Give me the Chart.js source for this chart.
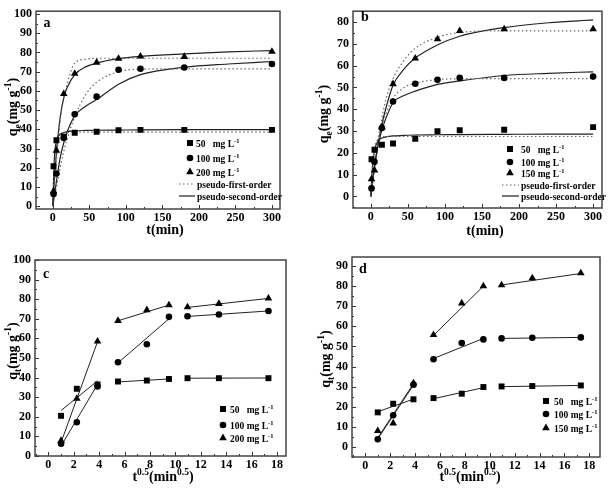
<!DOCTYPE html>
<html>
<head>
<meta charset="utf-8">
<script src="https://cdn.jsdelivr.net/npm/chart.js"></script>
<style>
  body { margin: 0; background: #fff; }
  #wrap { position: relative; width: 614px; height: 490px; }
  canvas { position: absolute; }
</style>
</head>
<body>
<div id="wrap">
  <canvas id="pa" width="307" height="245" style="left:0;top:0"></canvas>
  <canvas id="pb" width="307" height="245" style="left:307px;top:0"></canvas>
  <canvas id="pc" width="307" height="245" style="left:0;top:245px"></canvas>
  <canvas id="pd" width="307" height="245" style="left:307px;top:245px"></canvas>
</div>
<script>
// sampling times (min) and their square roots as plotted in c / d
const tMin = [1, 5, 15, 30, 60, 90, 120, 180, 300];
const tRoot = [1, 2.24, 3.87, 5.48, 7.75, 9.49, 10.95, 13.42, 17.32];

// panel a - measured q (mg/g)
const qA50 = [20.8, 34.3, 36.1, 38.2, 38.7, 39.5, 39.7, 39.7, 39.7];
const qA100 = [6.3, 17, 35.5, 47.8, 57, 71, 71.5, 72.2, 74];
const qA200 = [7.8, 29, 58.5, 69, 74.8, 76.8, 78, 77.8, 80.5];

// panel b - measured q (mg/g)
const qB50 = [17.1, 21.4, 23.7, 24.3, 26.5, 29.9, 30.4, 30.6, 31.8];
const qB100 = [3.7, 15.9, 31.4, 43.6, 51.7, 53.5, 54.4, 54.4, 55];
const qB150 = [8, 12, 31.8, 51.6, 63.4, 72.2, 76, 76.8, 76.8];

// fitted curves (at these times)
const tFit = [0, 2, 5, 10, 15, 20, 30, 45, 60, 90, 120, 180, 240, 300];
const pfoA50 = [0, 17, 31, 37, 38.2, 38.4, 38.5, 38.5, 38.5, 38.5, 38.5, 38.5, 38.5, 38.5];
const psoA50 = [0, 24, 34, 37.3, 38.3, 38.8, 39.2, 39.4, 39.5, 39.6, 39.7, 39.8, 39.8, 39.8];
const pfoA100 = [0, 4, 10, 20, 28.5, 35.5, 46.5, 58, 64.5, 70, 71.3, 71.5, 71.5, 71.5];
const psoA100 = [0, 5, 13, 25, 33, 39, 47, 52, 55.5, 63.5, 68.5, 72.3, 74, 75.3];
const pfoA200 = [0, 10, 24, 44, 56, 64, 74.5, 76.5, 77, 77, 77, 77, 77, 77];
const psoA200 = [0, 13, 28, 46, 56.5, 62, 68.5, 72.5, 74.5, 76.8, 78, 79.3, 80.3, 81];
const pfoB50 = [0, 13, 22, 26.5, 27.3, 27.5, 27.5, 27.5, 27.5, 27.5, 27.5, 27.5, 27.5, 27.5];
const psoB50 = [0, 12, 21, 25.5, 26.8, 27.3, 27.8, 28, 28.2, 28.3, 28.4, 28.5, 28.6, 28.6];
const pfoB100 = [0, 6, 15, 26, 32, 37.5, 45, 50, 52, 53.6, 54, 54.1, 54.1, 54.1];
const psoB100 = [0, 6, 14, 24, 30.5, 35.5, 43, 46.3, 48.3, 51.4, 53, 55.5, 56.5, 57.2];
const pfoB150 = [0, 5, 14, 26, 36, 44, 54, 62.5, 68, 73, 75.2, 76, 76, 76];
const psoB150 = [0, 5, 13, 24, 33, 40, 51, 58.5, 63.5, 69.5, 73.5, 77.5, 79.7, 81];

// panel c / d - intraparticle diffusion
const qC50 = [20.5, 34.3, 36.5, 38, 38.5, 39.3, 39.7, 39.7, 39.7];
const qC100 = [6.3, 17.2, 35.5, 47.8, 57, 71, 71.3, 72.2, 74];
const qC200 = [7.8, 29.3, 58.5, 69, 74.5, 77, 76, 77.7, 80.4];
const qD50 = [17.2, 21.5, 23.7, 24.3, 26.5, 29.8, 30.1, 30.3, 30.6];
const qD100 = [3.8, 15.8, 31, 43.6, 51.7, 53.5, 54, 54.3, 54.5];
const qD150 = [8, 11.8, 31.8, 55.8, 71.5, 80, 80.5, 84, 86.5];

// linear segments: x ends and y ends per stage
const segX = [[1, 3.87], [5.48, 9.49], [10.95, 17.32]];
const lineC50 = [[23.2, 38.3], [37.8, 39.3], [39.7, 39.8]];
const lineC100 = [[5.1, 36.5], [47.5, 70], [71.2, 74]];
const lineC200 = [[6.9, 58.3], [69, 77], [75.8, 80.4]];
const lineD50 = [[17.5, 23.8], [24, 29.5], [30, 30.6]];
const lineD100 = [[4, 30.8], [44, 54], [54, 54.5]];
const lineD150 = [[4.5, 31.5], [55.5, 80], [80.6, 86.3]];

const SERIF = '"Liberation Serif", "Times New Roman", serif';

function pts(xs, ys) {
  return xs.map((x, i) => ({ x: x, y: ys[i] }));
}

function markers(xs, ys, style) {
  let r = style == 'rect' ? 4.2 : (style == 'circle' ? 3.3 : 4.4);
  return { data: pts(xs, ys), pointStyle: style, pointRadius: r, pointBorderWidth: 0,
    backgroundColor: '#000', borderColor: '#000', showLine: false };
}

function curve(ys, dotted) {
  return { data: pts(tFit, ys), showLine: true, pointRadius: 0, borderWidth: 1.2,
    borderColor: dotted ? '#666' : '#222', borderDash: dotted ? [1.5, 2.5] : [],
    cubicInterpolationMode: 'monotone' };
}

function segments(line) {
  let out = [];
  for (let i = 0; i < 3; i++) {
    out.push({ data: [{ x: segX[i][0], y: line[i][0] }, { x: segX[i][1], y: line[i][1] }],
      showLine: true, pointRadius: 0, borderWidth: 1, borderColor: '#222' });
  }
  return out;
}

// draw text pieces with sub / superscripts
function rich(ctx, segs, x, y, size, align) {
  let w = 0;
  segs.forEach(s => {
    ctx.font = 'bold ' + (s[1] ? size * 0.68 : size) + 'px ' + SERIF;
    w += ctx.measureText(s[0]).width;
  });
  let cx = align == 'left' ? x : x - w / 2;
  ctx.textBaseline = 'alphabetic';
  ctx.textAlign = 'left';
  segs.forEach(s => {
    ctx.font = 'bold ' + (s[1] ? size * 0.68 : size) + 'px ' + SERIF;
    let dy = s[1] == 'sub' ? size * 0.28 : (s[1] == 'sup' ? -size * 0.42 : 0);
    ctx.fillText(s[0], cx, y + dy);
    cx += ctx.measureText(s[0]).width;
  });
}

function marker(ctx, style, x, y) {
  ctx.beginPath();
  if (style == 'rect') ctx.rect(x - 3, y - 3, 6, 6);
  else if (style == 'circle') ctx.arc(x, y, 3.3, 0, Math.PI * 2);
  else { ctx.moveTo(x, y - 4.4); ctx.lineTo(x + 3.8, y + 2.2); ctx.lineTo(x - 3.8, y + 2.2); ctx.closePath(); }
  ctx.fill();
}

const deco = {};

const decoPlugin = {
  id: 'deco',
  afterDraw(chart) {
    const o = deco[chart.canvas.id];
    const ctx = chart.ctx, a = chart.chartArea;
    ctx.save();
    ctx.fillStyle = '#000';
    ctx.strokeStyle = '#333';
    ctx.lineWidth = 1;
    // inward tick marks, major + minor
    ['x', 'y'].forEach(k => {
      const s = chart.scales[k];
      const vals = s.ticks.map(t => t.value);
      const step = vals[1] - vals[0];
      let all = [];
      vals.forEach(v => { all.push([v, 4]); all.push([v + step / 2, 2]); });
      all.push([vals[0] - step / 2, 2]);
      all.forEach(t => {
        if (t[0] < s.min || t[0] > s.max) return;
        const p = Math.round(s.getPixelForValue(t[0])) + 0.5;
        ctx.beginPath();
        if (k == 'x') { ctx.moveTo(p, a.bottom); ctx.lineTo(p, a.bottom - t[1]); }
        else { ctx.moveTo(a.left, p); ctx.lineTo(a.left + t[1], p); }
        ctx.stroke();
      });
    });
    ctx.lineWidth = 1.5;
    ctx.strokeStyle = '#444';
    ctx.strokeRect(a.left, a.top, a.right - a.left, a.bottom - a.top);

    rich(ctx, [[o.letter[0], '']], o.letter[1], o.letter[2], 14, 'center');
    rich(ctx, o.xTitle[0], o.xTitle[1], o.xTitle[2], 14, 'center');
    ctx.save();
    ctx.translate(o.yTitle[1], o.yTitle[2]);
    ctx.rotate(-Math.PI / 2);
    rich(ctx, o.yTitle[0], 0, 5, 14, 'center');
    ctx.restore();

    // legend
    const lg = o.legend;
    lg.items.forEach(it => {
      if (it.m) {
        marker(ctx, it.m, lg.mx, it.y);
        rich(ctx, it.segs, lg.tx, it.y + 3.5, 9.5, 'left');
      } else {
        ctx.beginPath();
        ctx.strokeStyle = it.dash.length ? '#666' : '#222';
        ctx.lineWidth = 1.2;
        ctx.setLineDash(it.dash);
        ctx.moveTo(lg.lx0, it.y);
        ctx.lineTo(lg.lx1, it.y);
        ctx.stroke();
        ctx.setLineDash([]);
        rich(ctx, it.segs, lg.lx1 + 2, it.y + 3.5, 9.5, 'left');
      }
    });
    ctx.restore();
  }
};

function makePanel(id, datasets, xr, yr, area) {
  const W = 307, H = 245, yW = 30, xH = 20;
  const tickFont = { family: SERIF, size: 12, weight: 'bold' };
  new Chart(document.getElementById(id), {
    type: 'scatter',
    data: { datasets: datasets },
    options: {
      responsive: false,
      animation: false,
      layout: { autoPadding: false,
        padding: { left: area[0] - yW, top: area[1], right: W - area[2], bottom: H - area[3] - xH } },
      plugins: { legend: { display: false }, tooltip: { enabled: false } },
      scales: {
        x: { type: 'linear', min: xr[0], max: xr[1],
          grid: { display: false, drawTicks: false }, border: { display: false },
          ticks: { stepSize: xr[2], includeBounds: false, font: tickFont, color: '#000', padding: 2, maxRotation: 0 },
          afterFit: s => { s.height = xH; } },
        y: { type: 'linear', min: yr[0], max: yr[1],
          grid: { display: false, drawTicks: false }, border: { display: false },
          ticks: { stepSize: yr[2], includeBounds: false, font: tickFont, color: '#000', padding: 4 },
          afterFit: s => { s.width = yW; } }
      }
    },
    plugins: [decoPlugin]
  });
}

const qeTitle = [['q', ''], ['e', 'sub'], ['(mg g', ''], ['-1', 'sup'], [')', '']];
const qtTitle = [['q', ''], ['t', 'sub'], ['(mg g', ''], ['-1', 'sup'], [')', '']];
const tTitle = [['t(min)', '']];
const rootTitle = [['t', ''], ['0.5', 'sup'], ['(min', ''], ['0.5', 'sup'], [')', '']];

function concLegend(c3, ys) {
  return [
    { m: 'rect', y: ys[0], segs: [['50   mg L', ''], ['-1', 'sup']] },
    { m: 'circle', y: ys[1], segs: [['100 mg L', ''], ['-1', 'sup']] },
    { m: 'triangle', y: ys[2], segs: [[c3 + ' mg L', ''], ['-1', 'sup']] }
  ];
}

// panel a
deco.pa = { letter: ['a', 47, 27], xTitle: [tTitle, 165, 234], yTitle: [qeTitle, 12, 107],
  legend: { mx: 190, tx: 196, lx0: 179, lx1: 195,
    items: concLegend('200', [143, 158, 172]).concat([
      { dash: [1.5, 2.5], y: 184, segs: [['pseudo-first-order', '']] },
      { dash: [], y: 196, segs: [['pseudo-second-order', '']] }]) } };
makePanel('pa', [
  markers(tMin, qA50, 'rect'), markers(tMin, qA100, 'circle'), markers(tMin, qA200, 'triangle'),
  curve(pfoA50, true), curve(psoA50, false), curve(pfoA100, true), curve(psoA100, false),
  curve(pfoA200, true), curve(psoA200, false)
], [-23, 311, 50], [-1.5, 101.5, 10], [36, 4, 280, 209]);

// panel b
deco.pb = { letter: ['b', 58, 21], xTitle: [tTitle, 178, 235], yTitle: [qeTitle, 16, 114],
  legend: { mx: 203, tx: 214, lx0: 195, lx1: 212,
    items: concLegend('150', [149, 162, 173]).concat([
      { dash: [1.5, 2.5], y: 185, segs: [['pseudo-first-order', '']] },
      { dash: [], y: 196, segs: [['pseudo-second-order', '']] }]) } };
makePanel('pb', [
  markers(tMin, qB50, 'rect'), markers(tMin, qB100, 'circle'), markers(tMin, qB150, 'triangle'),
  curve(pfoB50, true), curve(psoB50, false), curve(pfoB100, true), curve(psoB100, false),
  curve(pfoB150, true), curve(psoB150, false)
], [-24, 312, 50], [-5.3, 85, 10], [46, 4, 295, 208]);

// panel c
deco.pc = { letter: ['c', 46, 33], xTitle: [rootTitle, 163, 236], yTitle: [qtTitle, 12, 106],
  legend: { mx: 223, tx: 230, items: concLegend('200', [164, 180, 193]) } };
makePanel('pc', [
  markers(tRoot, qC50, 'rect'), markers(tRoot, qC100, 'circle'), markers(tRoot, qC200, 'triangle')
].concat(segments(lineC50), segments(lineC100), segments(lineC200)),
  [-1.05, 18.7, 2], [0, 100, 10], [35, 15, 286, 211]);

// panel d
deco.pd = { letter: ['d', 56, 28], xTitle: [rootTitle, 163, 236], yTitle: [qtTitle, 18, 114],
  legend: { mx: 239, tx: 247, items: concLegend('150', [156, 169, 183]) } };
makePanel('pd', [
  markers(tRoot, qD50, 'rect'), markers(tRoot, qD100, 'circle'), markers(tRoot, qD150, 'triangle')
].concat(segments(lineD50), segments(lineD100), segments(lineD150)),
  [-1.07, 18.86, 2], [-5, 94.5, 10], [45, 12, 293, 212]);
</script>
</body>
</html>
